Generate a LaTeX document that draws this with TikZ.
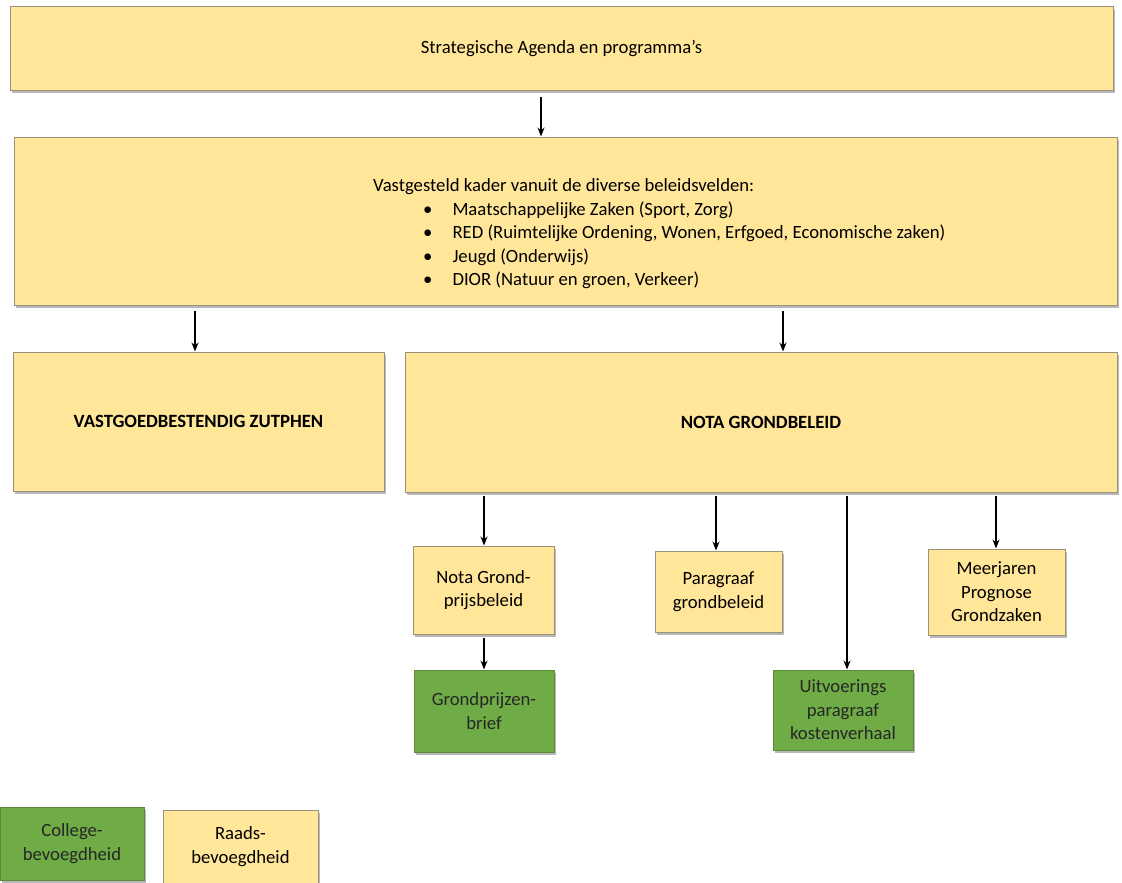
\documentclass[tikz,border=0pt]{standalone}
\usepackage{fontspec}
\setmainfont{Carlito}
\usetikzlibrary{arrows.meta,shadows}
\definecolor{yel}{HTML}{FFE699}
\definecolor{yelborder}{HTML}{9A927A}
\definecolor{grn}{HTML}{6FAC46}
\definecolor{grnborder}{HTML}{5B8A3A}
\begin{document}
\begin{tikzpicture}[x=1pt,y=-1pt,
  every node/.style={font=\fontsize{18.7}{23.5}\selectfont},
  ybox/.style={draw=yelborder,line width=1pt,fill=yel,inner sep=0pt,align=center,
    drop shadow={shadow xshift=2pt,shadow yshift=-3pt,fill=black!35,opacity=0.8}},
  gbox/.style={draw=grnborder,line width=1pt,fill=grn,inner sep=0pt,align=center,text=black!85,
    drop shadow={shadow xshift=2pt,shadow yshift=-3pt,fill=black!35,opacity=0.8}},
  bold/.style={font=\fontsize{18.7}{23.5}\selectfont\bfseries},
  arr/.style={line width=1.2pt,-{Stealth[length=9pt,width=7pt]},shorten <=3pt}
]
\useasboundingbox (0,0) rectangle (1122,883);

\node[ybox,minimum width=1103pt,minimum height=83pt] (b1) at (561.5,48.5) {Strategische Agenda en programma’s};
\node[ybox,minimum width=1103pt,minimum height=168pt] (b2) at (565.5,221) {};
\node[anchor=west,inner sep=0pt,align=left] (b2t) at (373,234)
 {Vastgesteld kader vanuit de diverse beleidsvelden:\\
  \hspace*{50pt}\textbullet\hspace*{20pt}Maatschappelijke Zaken (Sport, Zorg)\\
  \hspace*{50pt}\textbullet\hspace*{20pt}RED (Ruimtelijke Ordening, Wonen, Erfgoed, Economische zaken)\\
  \hspace*{50pt}\textbullet\hspace*{20pt}Jeugd (Onderwijs)\\
  \hspace*{50pt}\textbullet\hspace*{20pt}DIOR (Natuur en groen, Verkeer)};

\node[ybox,bold,minimum width=371pt,minimum height=139pt] (vz) at (198.5,421.5) {VASTGOEDBESTENDIG ZUTPHEN};
\node[ybox,bold,minimum width=712pt,minimum height=140pt] (ng) at (761,422) {NOTA GRONDBELEID};

\node[ybox,minimum width=141pt,minimum height=88pt] (ngp) at (483.5,590) {Nota Grond-\\prijsbeleid};
\node[ybox,minimum width=127pt,minimum height=81pt] (pg) at (718.5,591.5) {Paragraaf\\grondbeleid};
\node[ybox,minimum width=137pt,minimum height=86pt] (mp) at (996.5,592) {Meerjaren\\Prognose\\Grondzaken};
\node[gbox,minimum width=140pt,minimum height=82pt] (gb) at (484,711) {Grondprijzen-\\brief};
\node[gbox,minimum width=140pt,minimum height=80pt] (up) at (843,710) {Uitvoerings\\paragraaf\\kostenverhaal};

\node[gbox,minimum width=144pt,minimum height=73pt] (cb) at (72,843.5) {College-\\bevoegdheid};
\node[ybox,minimum width=155pt,minimum height=73pt] (rb) at (240.5,846.5) {Raads-\\bevoegdheid};

\coordinate (xa) at (541,0);
\coordinate (xb) at (195,0);
\coordinate (xc) at (783,0);
\coordinate (xd) at (484,0);
\coordinate (xe) at (716,0);
\coordinate (xf) at (847,0);
\coordinate (xg) at (996,0);

\draw[arr,shorten <=6pt] (b1.south -| xa) -- (b2.north -| xa);
\draw[arr,shorten <=5pt] (b2.south -| xb) -- (vz.north -| xb);
\draw[arr,shorten <=5pt] (b2.south -| xc) -- (ng.north -| xc);
\draw[arr] (ng.south -| xd) -- (ngp.north -| xd);
\draw[arr] (ng.south -| xe) -- (pg.north -| xe);
\draw[arr] (ng.south -| xf) -- (up.north -| xf);
\draw[arr] (ng.south -| xg) -- (mp.north -| xg);
\draw[arr] (ngp.south -| xd) -- (gb.north -| xd);
\end{tikzpicture}
\end{document}
